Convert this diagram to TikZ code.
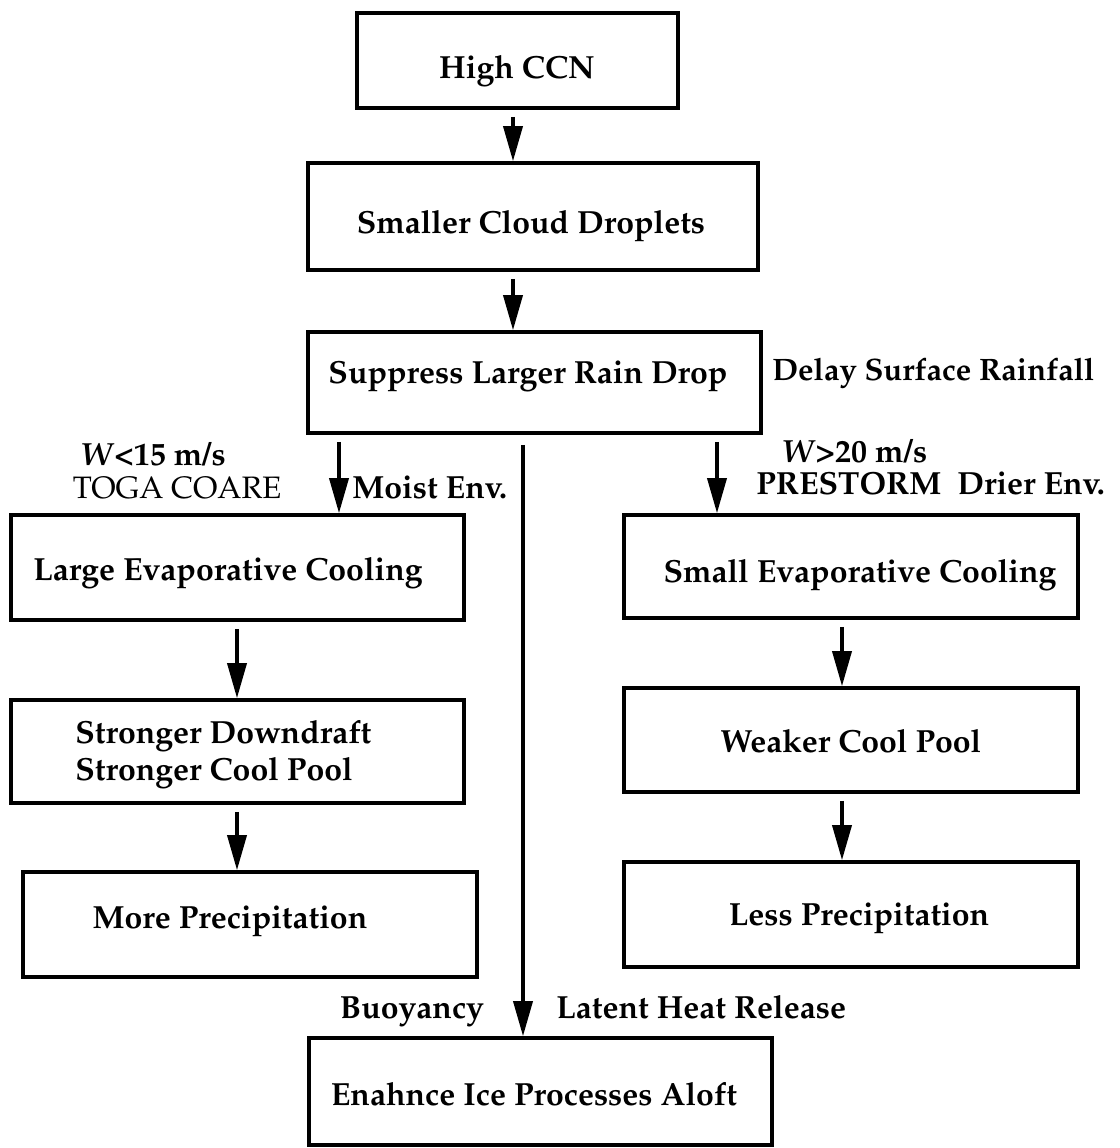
\documentclass[tikz,border=0pt]{standalone}
\usepackage[T1]{fontenc}
\renewcommand{\rmdefault}{ppl}
\usetikzlibrary{arrows.meta}
\begin{document}
\begin{tikzpicture}[x=0.5pt,y=-0.5pt,
  box/.style={draw, line width=1.8pt, inner sep=0pt},
  lab/.style={inner sep=0pt, anchor=base, font=\bfseries\fontsize{16}{19.5}\selectfont},
  labw/.style={lab, anchor=base west},
  arr/.style={line width=1.8pt, -{Triangle[length=17.5pt,width=9.5pt]}, shorten <=3.5pt},
  longarr/.style={arr, shorten <=5pt}]
\useasboundingbox (0,0) rectangle (1120,1148);

% boxes
\node[box, minimum width=160.5pt, minimum height=47.5pt]  (ccn)    at (517.5,60.5)  {};
\node[box, minimum width=225pt,   minimum height=53.5pt]  (drops)  at (533,216.5)   {};
\node[box, minimum width=226.5pt, minimum height=50.5pt]  (supp)   at (534.5,382.5) {};
\node[box, minimum width=226.5pt, minimum height=52.5pt]  (large)  at (237.5,567.5) {};
\node[box, minimum width=227pt,   minimum height=51.5pt]  (small)  at (851,566.5)   {};
\node[box, minimum width=226.5pt, minimum height=51.5pt]  (strong) at (237.5,751.5) {};
\node[box, minimum width=227pt,   minimum height=52pt]    (weak)   at (851,740)     {};
\node[box, minimum width=227pt,   minimum height=52.5pt]  (more)   at (250,924.5)   {};
\node[box, minimum width=227pt,   minimum height=52.5pt]  (less)   at (851,914.5)   {};
\node[box, minimum width=231.5pt, minimum height=53.5pt]  (enh)    at (540.5,1091.5){};

% box texts
\node[lab] (tccn)    at (517,78)   {High CCN};
\node[lab] (tdrops)  at (531,233)  {Smaller Cloud Droplets};
\node[lab] (tsupp)   at (528,383)  {Suppress Larger Rain Drop};
\node[lab] (tlarge)  at (228,580)  {Large Evaporative Cooling};
\node[lab] (tsmall)  at (860,582)  {Small Evaporative Cooling};
\node[labw] (tstr1)  at (75,743)   {Stronger Downdraft};
\node[labw] (tstr2)  at (75,780)   {Stronger Cool Pool};
\node[lab] (tweak)   at (851,752)  {Weaker Cool Pool};
\node[lab] (tmore)   at (230,928)  {More Precipitation};
\node[lab] (tless)   at (859,925)  {Less Precipitation};
\node[lab] (tenh)    at (534,1105) {Enahnce Ice Processes Aloft};

% side labels
\node[labw, font=\bfseries\fontsize{15.5}{19}\selectfont] (delay) at (772,380) {Delay Surface Rainfall};
\node[lab]  (wlow)   at (153,465)  {\textit{W}<15 m/s};
\node[lab, font=\mdseries\fontsize{15.5}{19}\selectfont] (toga) at (177,498) {TOGA COARE};
\node[labw] (moist)  at (352,498)  {Moist Env.};
\node[labw] (whigh)  at (781,462)  {\textit{W}>20 m/s};
\node[labw] (prest)  at (756,494)  {PRESTORM};
\node[labw] (drier)  at (957,494)  {Drier Env.};
\node[lab]  (buoy)   at (412,1018) {Buoyancy};
\node[labw] (latent) at (556,1018) {Latent Heat Release};

% x positions of connectors
\coordinate (xa) at (513,0);
\coordinate (xl) at (339,0);
\coordinate (xr) at (717,0);
\coordinate (xc) at (523,0);
\coordinate (xL) at (237,0);
\coordinate (xR) at (842,0);

% connectors
\draw[arr] (ccn.south -| xa) -- (drops.north -| xa);
\draw[arr] (drops.south -| xa) -- (supp.north -| xa);
\draw[arr] (supp.south -| xl) -- (large.north -| xl);
\draw[arr] (supp.south -| xr) -- (small.north -| xr);
\draw[longarr] (supp.south -| xc) -- (enh.north -| xc);
\draw[arr] (large.south -| xL) -- (strong.north -| xL);
\draw[arr] (strong.south -| xL) -- (more.north -| xL);
\draw[arr] (small.south -| xR) -- (weak.north -| xR);
\draw[arr] (weak.south -| xR) -- (less.north -| xR);
\end{tikzpicture}
\end{document}
